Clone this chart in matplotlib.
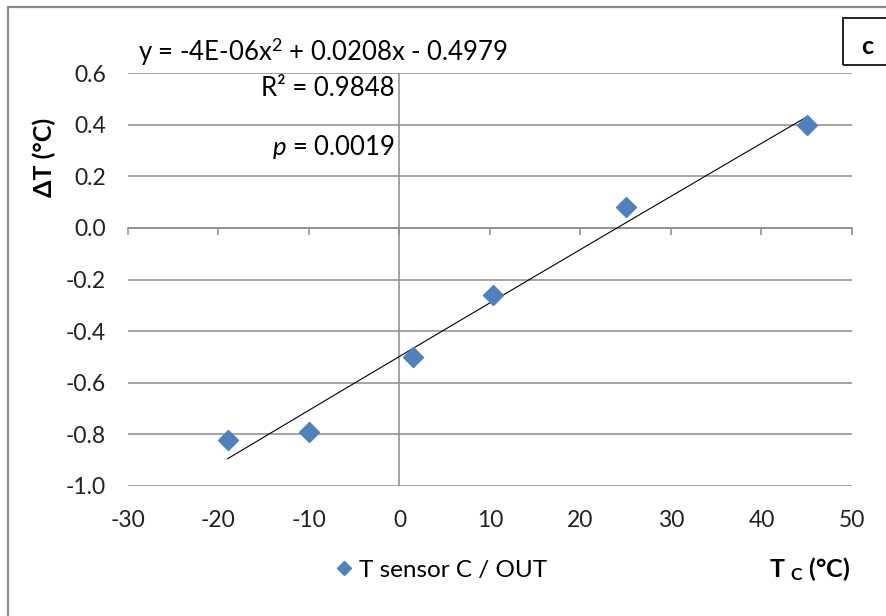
import matplotlib.pyplot as plt
import numpy as np
from matplotlib.patches import Rectangle

plt.rcParams['font.family'] = ['Lato', 'DejaVu Sans']
plt.rcParams['mathtext.fontset'] = 'custom'
plt.rcParams['mathtext.rm'] = 'Lato'
plt.rcParams['mathtext.it'] = 'Lato:italic'
plt.rcParams['mathtext.bf'] = 'Lato:bold'

# measured points (T_C vs delta T)
t_c = [-19.0, -10.0, 1.5, 10.3, 25.0, 45.0]
delta_t = [-0.82, -0.79, -0.50, -0.26, 0.08, 0.40]

# trendline coefficients as printed on the chart
poly_coef = [-4e-06, 0.0208, -0.4979]
r_squared = 0.9848
p_value = 0.0019

x_ticks = [-30, -20, -10, 0, 10, 20, 30, 40, 50]
y_ticks = [-1.0, -0.8, -0.6, -0.4, -0.2, 0.0, 0.2, 0.4, 0.6]

grid_col = '#8c8c8c'
blue = '#4F81BD'

fig = plt.figure(figsize=(8.86, 6.16), dpi=100)
ax = fig.add_axes([128 / 886, 1 - 486 / 616, 724 / 886, 413 / 616])

ax.set_xlim(-30, 50)
ax.set_ylim(-1.0, 0.6)
ax.set_xticks(x_ticks)
ax.set_yticks(y_ticks)
ax.set_xticklabels([f'{v:d}' for v in x_ticks])
ax.set_yticklabels([f'{v:.1f}' for v in y_ticks])
ax.tick_params(axis='x', length=0, pad=17, labelsize=16.5, colors='#222222')
ax.tick_params(axis='y', length=0, pad=16, labelsize=16.5, colors='#222222')
for s in ax.spines.values():
    s.set_visible(False)
ax.yaxis.grid(True, color=grid_col, lw=1.1)
ax.set_axisbelow(True)

# axis lines crossing at zero
ax.axvline(0, color=grid_col, lw=1.1, zorder=1)
sec = ax.secondary_xaxis(0, transform=ax.transData)
sec.spines['bottom'].set_color(grid_col)
sec.spines['bottom'].set_linewidth(1.1)
sec.set_xticks(x_ticks)
sec.tick_params(axis='x', direction='out', length=5, width=1.1, color=grid_col,
                labelbottom=False)

# trendline
xx = np.linspace(min(t_c), max(t_c), 200)
ax.plot(xx, np.polyval(poly_coef, xx), color='black', lw=0.8, zorder=2)

ax.plot(t_c, delta_t, linestyle='none', marker='D', ms=10, color=blue,
        label='T sensor C / OUT', zorder=3)

ax.set_ylabel('ΔT (°C)', fontsize=18, fontweight='bold')
ax.yaxis.set_label_coords(-0.100, 0.795)

fig.text(850 / 886, 1 - 569 / 616, r'T $_{\mathbf{C}}$ (°C)', fontsize=18,
         fontweight='bold', ha='right', va='center')

ax.legend(loc='center left', bbox_to_anchor=(314 / 886, 1 - 570 / 616),
          bbox_transform=fig.transFigure, frameon=False, fontsize=17.5,
          markerscale=0.75, handlelength=0.7, handletextpad=0.25)

# equation / stats annotations
fig.text(138 / 886, 1 - 52 / 616,
         r'y = -4E-06x$^{2}$ + 0.0208x - 0.4979', fontsize=18.5,
         ha='left', va='center')
fig.text(395 / 886, 1 - 88 / 616, f'R² = {r_squared:.4f}', fontsize=18.5,
         ha='right', va='center')
fig.text(395 / 886, 1 - 147 / 616, f'$p$ = {p_value:.4f}', fontsize=18.5,
         ha='right', va='center')

# outer chart border and panel letter box
fig.patches.append(Rectangle((8 / 886, -0.1), 2, 1 - 7 / 616 + 0.1,
                             transform=fig.transFigure, fill=False,
                             edgecolor='#8a8a8a', lw=1.6))
fig.patches.append(Rectangle((843 / 886, 1 - 65 / 616), 0.2, 47 / 616,
                             transform=fig.transFigure, fill=False,
                             edgecolor='#222222', lw=1.4))
fig.text(867 / 886, 1 - 46 / 616, 'c', fontsize=18, fontweight='bold',
         ha='center', va='center')

fig.savefig('out.png', dpi=100)
